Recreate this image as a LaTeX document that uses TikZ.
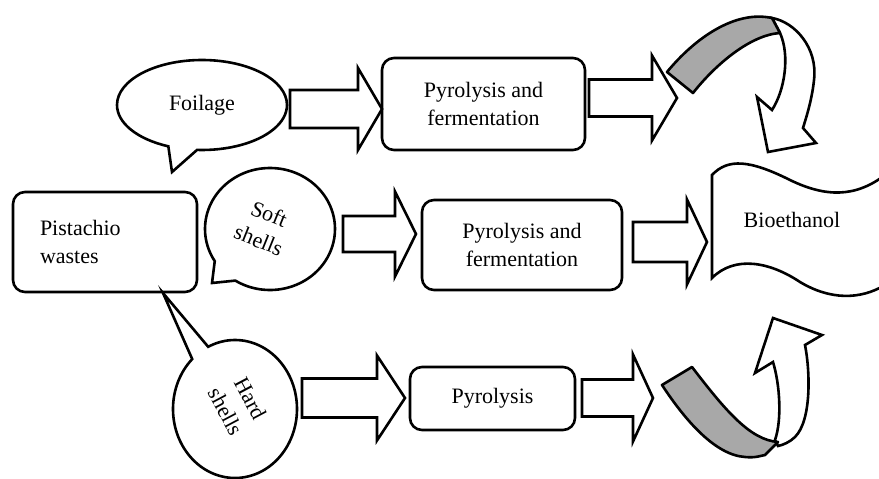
\documentclass[tikz,border=0pt]{standalone}
\usepackage{fontspec}
\setmainfont{Liberation Serif}
\usetikzlibrary{shapes.callouts}
\definecolor{ribgray}{RGB}{168,168,168}
\newcommand\blockarrow[6]{% x0 x1 x2 yc shafthalf headhalf
  \draw[blockarr] (#1,#4-#5) -- (#2,#4-#5) -- (#2,#4-#6) -- (#3,#4) -- (#2,#4+#6) -- (#2,#4+#5) -- (#1,#4+#5) -- cycle;}
\begin{document}
\begin{tikzpicture}[x=1pt,y=-1pt,
  every node/.style={font=\fontsize{22}{28}\selectfont},
  ln/.style={line width=2.6pt},
  procbox/.style={ln, draw, rounded corners=12pt, fill=white, align=center, inner sep=0pt},
  bubble/.style={ln, draw, ellipse callout, fill=white, inner sep=0pt},
  blockarr/.style={ln, draw, fill=white},
  ribbon/.style={ln, draw, fill=ribgray, line join=round},
  whitecurve/.style={ln, draw, fill=white},
]
\useasboundingbox (0,0) rectangle (879,479);
\clip (0,0) rectangle (879,479);

% source box
\node[procbox, minimum width=184pt, minimum height=100pt, align=left, text width=130pt] (src) at (105,242) {Pistachio\\wastes};

% callouts
\node[bubble, minimum width=170pt, minimum height=90pt, callout pointer arc=20, callout absolute pointer={(172,172)}] (foil) at (202,105) {Foilage};
\node[bubble, minimum width=130pt, minimum height=122pt, callout pointer arc=26, callout absolute pointer={(212,283)}] (soft) at (270,229) {};
\node[rotate=-22, align=center] (softtxt) at (264,227) {Soft\\shells};
\node[bubble, minimum width=124pt, minimum height=138pt, callout pointer arc=18, callout absolute pointer={(163,293)}] (hard) at (235,409) {};
\node[rotate=-62, align=center] (hardtxt) at (238,405) {Hard\\shells};

% process boxes
\node[procbox, minimum width=203pt, minimum height=92pt] (p1) at (483.5,104) {Pyrolysis and\\fermentation};
\node[procbox, minimum width=200pt, minimum height=90pt] (p2) at (522,245) {Pyrolysis and\\fermentation};
\node[procbox, minimum width=165pt, minimum height=63pt] (p3) at (492.5,398.5) {Pyrolysis};

% block arrows
\blockarrow{290}{358}{382}{109}{19}{41}
\blockarrow{589}{652}{677}{98}{18.5}{42.5}
\blockarrow{343}{395}{416}{234}{18}{42.5}
\blockarrow{633}{687}{707}{242}{20}{42.5}
\blockarrow{302}{377}{405}{398}{19.5}{42.5}
\blockarrow{582}{633}{653}{398}{18.5}{43.5}

% bioethanol wave shape
\draw[ln, fill=white] (712,175) .. controls (728,158) and (750,160) .. (790,180)
  .. controls (825,197) and (855,198) .. (885,175) -- (885,285)
  .. controls (860,300) and (830,300) .. (800,282)
  .. controls (770,262) and (735,255) .. (712,278) -- cycle;
\node (bio) at (792,220) {Bioethanol};

% top curved arrow
\draw[whitecurve] (772,18) .. controls (795,22) and (818,48) .. (814,80)
  .. controls (812,100) and (806,118) .. (803,128) -- (816,143) -- (768,152) -- (757,97) -- (772,110)
  .. controls (785,90) and (790,55) .. (780,33) -- cycle;
\draw[ribbon] (667,72) .. controls (695,38) and (735,10) .. (772,18) -- (780,33)
  .. controls (750,35) and (715,65) .. (693,93) -- cycle;

% bottom curved arrow
\draw[whitecurve] (775,440) .. controls (782,420) and (780,385) .. (773,362) -- (755,373) -- (773,318) -- (822,335) -- (805,345)
  .. controls (810,370) and (812,420) .. (795,437) .. controls (790,442) and (783,445) .. (778,446) -- cycle;
\draw[ribbon] (662,385) .. controls (685,420) and (715,455) .. (745,457)
  .. controls (755,458) and (760,456) .. (765,455) -- (778,442)
  .. controls (750,440) and (725,410) .. (692,367) -- cycle;
\end{tikzpicture}
\end{document}
